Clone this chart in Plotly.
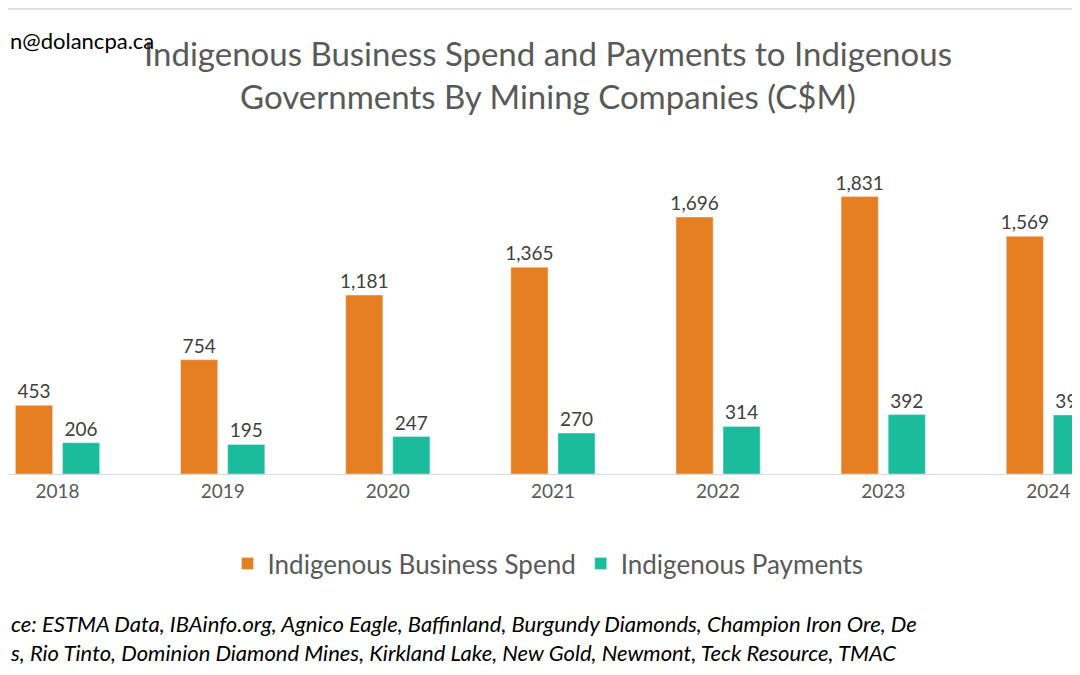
import plotly.graph_objects as go

years = ["2018", "2019", "2020", "2021", "2022", "2023", "2024"]
spend = [453, 754, 1181, 1365, 1696, 1831, 1569]
payments = [206, 195, 247, 270, 314, 392, 390]

T, B = 163, 209
H = 675 - T - B

fig = go.Figure()
fig.add_bar(x=years, y=spend, name="Indigenous Business Spend", marker_color="#E67E22",
            width=0.225, offset=-0.255, text=[f"{v:,}" for v in spend], textposition="outside",
            constraintext="none", textfont=dict(size=19, color="#404040"), cliponaxis=False)
fig.add_bar(x=years, y=payments, name="Indigenous Payments", marker_color="#1ABC9C",
            width=0.225, offset=0.03, text=[f"{v:,}" for v in payments], textposition="outside",
            constraintext="none", textfont=dict(size=19, color="#404040"), cliponaxis=False)

def py(pix):
    return (675 - B - pix) / H

fig.update_layout(
    width=1080, height=675, plot_bgcolor="white", paper_bgcolor="white",
    margin=dict(l=0, r=0, t=T, b=B),
    font=dict(family="Lato, Liberation Sans, sans-serif", color="#595959"),
    title=dict(text="Indigenous Business Spend and Payments to Indigenous<br>Governments By Mining Companies (C$M)",
               x=0.5, xanchor="center", y=1 - 58 / 675, yanchor="top", font=dict(size=33, color="#595959")),
    xaxis=dict(range=[-0.3, 6.24], showline=True, linecolor="#D9D9D9", linewidth=1,
               tickfont=dict(size=19, color="#595959"), ticks=""),
    yaxis=dict(range=[0, 2000], visible=False),
    showlegend=True,
    legend=dict(orientation="h", x=0.5, xanchor="center", y=py(532), yanchor="top",
                font=dict(size=26, color="#595959")),
    annotations=[
        dict(text="n@dolancpa.ca", x=0, y=py(32), xref="paper", yref="paper", showarrow=False,
             xanchor="left", yanchor="middle", font=dict(size=22, color="#000000")),
        dict(text="<i>ce: ESTMA Data, IBAinfo.org, Agnico Eagle, Baffinland, Burgundy Diamonds, Champion Iron Ore, De</i><br><i>s, Rio Tinto, Dominion Diamond Mines, Kirkland Lake, New Gold, Newmont, Teck Resource, TMAC</i>",
             x=0, y=py(600), xref="paper", yref="paper", showarrow=False, align="left",
             xanchor="left", yanchor="top", font=dict(size=22, color="#000000")),
    ],
    shapes=[
        dict(type="line", xref="paper", yref="paper", x0=0, x1=1, y0=py(1), y1=py(1), line=dict(color="#BFBFBF", width=1)),
        dict(type="line", xref="paper", yref="paper", x0=0, x1=1, y0=py(672), y1=py(672), line=dict(color="#BFBFBF", width=1)),
    ],
)
fig.write_html("out.html")
